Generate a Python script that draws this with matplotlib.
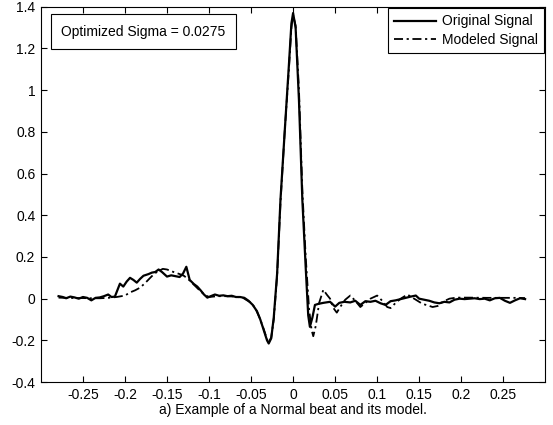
import matplotlib
matplotlib.use("Agg")
import matplotlib.pyplot as plt

plt.rcParams["font.family"] = ["Liberation Sans", "DejaVu Sans"]
plt.rcParams["font.size"] = 10

# original ECG beat
t_orig = [-0.279, -0.274, -0.270, -0.265, -0.260, -0.255, -0.250, -0.245, -0.240, -0.235,
          -0.230, -0.225, -0.220, -0.216, -0.212, -0.206, -0.202, -0.198, -0.194, -0.190,
          -0.186, -0.182, -0.178, -0.172, -0.168, -0.164, -0.160, -0.156, -0.150, -0.145,
          -0.140, -0.135, -0.131, -0.127, -0.123, -0.118, -0.114, -0.110, -0.106, -0.102,
          -0.098, -0.093, -0.088, -0.083, -0.078, -0.073, -0.068, -0.063, -0.058, -0.053,
          -0.048, -0.043, -0.039, -0.035, -0.031, -0.029, -0.026, -0.023, -0.019, -0.015,
          -0.010, -0.005, -0.002, 0.000, 0.003, 0.007, 0.011, 0.015, 0.018, 0.020,
          0.023, 0.026, 0.030, 0.036, 0.044, 0.050, 0.055, 0.061, 0.068, 0.074,
          0.080, 0.086, 0.092, 0.098, 0.104, 0.110, 0.116, 0.122, 0.128, 0.134,
          0.140, 0.146, 0.150, 0.156, 0.162, 0.168, 0.174, 0.180, 0.186, 0.192,
          0.198, 0.204, 0.210, 0.216, 0.222, 0.228, 0.234, 0.240, 0.246, 0.252,
          0.258, 0.264, 0.270, 0.276]
y_orig = [0.012, 0.008, 0.002, 0.010, 0.006, 0.000, 0.008, 0.004, -0.008, 0.004,
          0.006, 0.012, 0.020, 0.008, 0.010, 0.072, 0.058, 0.082, 0.100, 0.090,
          0.077, 0.095, 0.110, 0.118, 0.125, 0.128, 0.140, 0.128, 0.106, 0.112,
          0.108, 0.104, 0.120, 0.153, 0.090, 0.070, 0.058, 0.040, 0.020, 0.005,
          0.012, 0.020, 0.014, 0.016, 0.012, 0.014, 0.008, 0.008, 0.004, -0.010,
          -0.030, -0.060, -0.100, -0.150, -0.200, -0.215, -0.190, -0.090, 0.120, 0.475,
          0.800, 1.120, 1.320, 1.370, 1.300, 0.950, 0.475, 0.150, -0.080, -0.135,
          -0.090, -0.030, -0.025, -0.020, -0.015, -0.038, -0.020, -0.015, -0.018, -0.010,
          -0.030, -0.012, -0.015, -0.010, -0.022, -0.030, -0.012, -0.008, -0.002, 0.004,
          0.010, 0.015, 0.000, -0.005, -0.010, -0.018, -0.022, -0.015, -0.018, -0.005,
          0.000, -0.002, 0.000, 0.002, -0.002, 0.000, -0.008, 0.002, 0.004, -0.010,
          -0.020, -0.008, 0.002, -0.002]

# gaussian-sum model of the beat
t_model = [-0.279, -0.270, -0.260, -0.250, -0.240, -0.230, -0.220, -0.210, -0.200, -0.194,
           -0.188, -0.182, -0.176, -0.170, -0.165, -0.160, -0.155, -0.150, -0.145, -0.140,
           -0.135, -0.130, -0.125, -0.120, -0.115, -0.110, -0.105, -0.100, -0.095, -0.090,
           -0.080, -0.070, -0.060, -0.050, -0.045, -0.040, -0.035, -0.031, -0.029, -0.026,
           -0.023, -0.019, -0.015, -0.010, -0.005, -0.002, 0.000, 0.003, 0.007, 0.011,
           0.015, 0.019, 0.022, 0.024, 0.027, 0.031, 0.036, 0.040, 0.044, 0.048,
           0.052, 0.056, 0.062, 0.068, 0.074, 0.080, 0.086, 0.092, 0.100, 0.106,
           0.112, 0.116, 0.122, 0.128, 0.136, 0.142, 0.148, 0.154, 0.160, 0.166,
           0.172, 0.178, 0.186, 0.194, 0.210, 0.230, 0.250, 0.265, 0.276]
y_model = [0.005, 0.004, 0.003, 0.003, 0.002, 0.002, 0.004, 0.008, 0.015, 0.030,
           0.040, 0.053, 0.075, 0.100, 0.120, 0.133, 0.143, 0.140, 0.132, 0.125,
           0.118, 0.110, 0.095, 0.075, 0.055, 0.035, 0.018, 0.008, 0.010, 0.012,
           0.012, 0.010, 0.005, -0.020, -0.045, -0.090, -0.145, -0.195, -0.210, -0.185,
           -0.100, 0.110, 0.460, 0.800, 1.100, 1.300, 1.360, 1.310, 1.000, 0.520,
           0.200, -0.050, -0.150, -0.180, -0.130, -0.020, 0.043, 0.020, 0.000, -0.045,
           -0.067, -0.040, -0.005, 0.015, -0.010, -0.040, -0.020, 0.000, 0.015, -0.010,
           -0.040, -0.045, -0.020, 0.000, 0.020, 0.005, -0.010, -0.025, -0.032, -0.040,
           -0.035, -0.015, 0.000, 0.005, 0.005, 0.004, 0.004, 0.004, 0.003]

sigma = 0.0275
xticks = [-0.25, -0.2, -0.15, -0.1, -0.05, 0, 0.05, 0.1, 0.15, 0.2, 0.25]
yticks = [-0.4, -0.2, 0, 0.2, 0.4, 0.6, 0.8, 1, 1.2, 1.4]

fig = plt.figure(figsize=(5.53, 4.25), dpi=100)
ax = fig.add_axes([0.074, 0.101, 0.912, 0.883])

ax.plot(t_orig, y_orig, color="black", linewidth=1.6, label="Original Signal")
ax.plot(t_model, y_model, color="black", linewidth=1.3, linestyle=(0, (5, 2, 1.2, 2)),
        label="Modeled Signal")

ax.set_xlim(-0.3, 0.3)
ax.set_ylim(-0.4, 1.4)
ax.set_xticks(xticks)
ax.set_xticklabels(["%g" % v for v in xticks])
ax.set_yticks(yticks)
ax.set_yticklabels(["%g" % v for v in yticks])
ax.tick_params(direction="in", length=4, width=0.8, top=True, right=True, labelsize=10, pad=4)
for s in ax.spines.values():
    s.set_linewidth(0.8)
ax.set_xlabel("a) Example of a Normal beat and its model.", fontsize=10, labelpad=1)

leg = ax.legend(loc="upper right", fancybox=False, edgecolor="black", framealpha=1,
                handlelength=3.0, handletextpad=0.4, borderaxespad=0.1, fontsize=10,
                borderpad=0.45, labelspacing=0.3)
leg.get_frame().set_linewidth(0.8)

ax.text(0.04, 0.952, "Optimized Sigma = %.4f" % sigma, transform=ax.transAxes,
        va="top", ha="left", fontsize=10,
        bbox=dict(boxstyle="square,pad=0.75", facecolor="white", edgecolor="black", linewidth=0.8))

fig.savefig("out.png", dpi=100)
